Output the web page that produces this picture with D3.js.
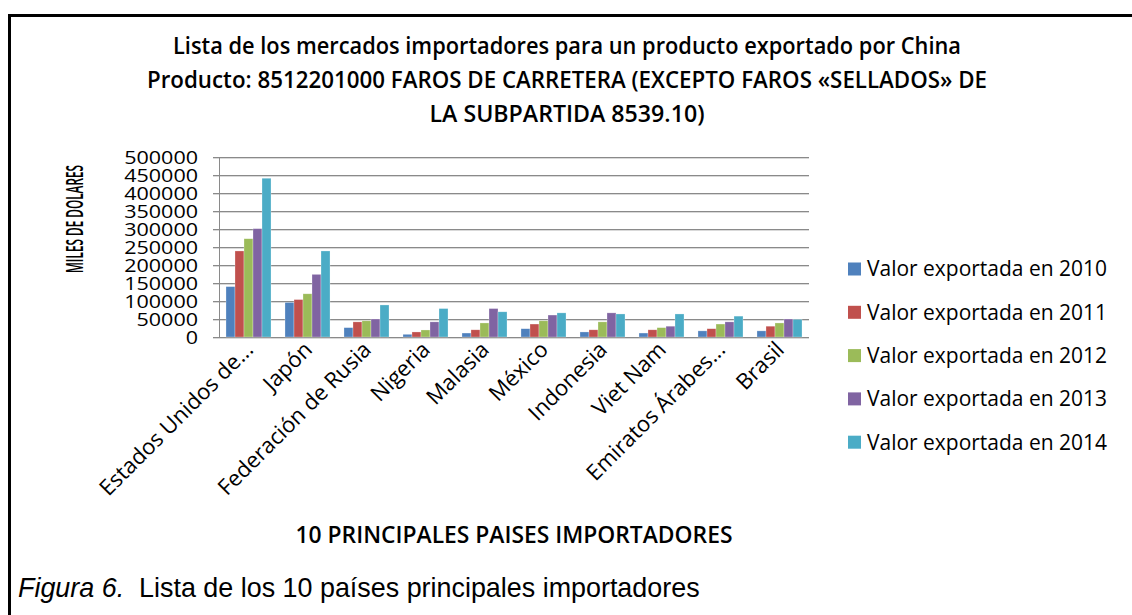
<!DOCTYPE html>
<html>
<head>
<meta charset="utf-8">
<script src="https://cdn.jsdelivr.net/npm/d3@7"></script>
<style>
  body { margin: 0; background: #fff; }
  svg { display: block; }
  .calib { font-family: "Open Sans", "DejaVu Sans", sans-serif; fill: #000; }
</style>
</head>
<body>
<div id="chart"></div>
<script>
var paises = ["Estados Unidos de...", "Japón", "Federación de Rusia", "Nigeria", "Malasia",
  "México", "Indonesia", "Viet Nam", "Emiratos Árabes...", "Brasil"];
var series = ["Valor exportada en 2010", "Valor exportada en 2011", "Valor exportada en 2012",
  "Valor exportada en 2013", "Valor exportada en 2014"];
var colors = ["#4f81bd", "#c0504d", "#9bbb59", "#8064a2", "#4bacc6"];

// miles de dolares, one array per year
var v2010 = [140000, 96000, 26000, 7500, 11000, 23000, 14000, 11000, 17000, 17000];
var v2011 = [239000, 104000, 42000, 14000, 20000, 36000, 20000, 20000, 23000, 30000];
var v2012 = [273000, 120000, 45000, 19500, 39000, 45000, 42000, 26000, 36000, 39000];
var v2013 = [301000, 174000, 50000, 42000, 79000, 61000, 67000, 30000, 42000, 50000];
var v2014 = [441000, 239000, 89000, 79000, 70000, 67000, 64000, 64000, 58000, 49000];
var values = [v2010, v2011, v2012, v2013, v2014];

var yTicks = [0, 50000, 100000, 150000, 200000, 250000, 300000, 350000, 400000, 450000, 500000];

var titleLines = ["Lista de los mercados importadores para un producto exportado por China",
  "Producto: 8512201000 FAROS DE CARRETERA (EXCEPTO FAROS «SELLADOS» DE",
  "LA SUBPARTIDA 8539.10)"];

var W = 1132, H = 615;
var svg = d3.select("#chart").append("svg").attr("width", W).attr("height", H);

// scale a text's font so its length fits the target
function fit(sel, target) {
  var len = sel.node().getComputedTextLength();
  var fs = parseFloat(sel.attr("font-size"));
  sel.attr("font-size", fs * target / len);
}

// frame
svg.append("rect")
  .attr("x", 9.5).attr("y", 15.5).attr("width", 1200).attr("height", 700)
  .attr("fill", "none").attr("stroke", "#000").attr("stroke-width", 3);

// title
var tw = [788, 840, 275];
titleLines.forEach(function(t, i) {
  svg.append("text").attr("class", "calib")
    .attr("x", 567).attr("y", 54 + i * 34)
    .attr("text-anchor", "middle")
    .attr("font-size", 23).attr("font-weight", 600)
    .attr("textLength", tw[i]).attr("lengthAdjust", "spacingAndGlyphs")
    .text(t);
});

var plot = {left: 219, right: 809, top: 157, bottom: 337};

var x = d3.scaleBand().domain(paises).range([plot.left, plot.right])
  .paddingInner(0.237).paddingOuter(0.1185);
var xs = d3.scaleBand().domain(d3.range(series.length)).range([0, x.bandwidth()]);
var y = d3.scaleLinear().domain([0, 500000]).range([plot.bottom, plot.top]);

// gridlines
var grid = svg.append("g");
grid.selectAll("line.sh").data(yTicks).join("line")
  .attr("x1", plot.left - 6).attr("x2", plot.right)
  .attr("y1", function(d) { return y(d) + 1.5; }).attr("y2", function(d) { return y(d) + 1.5; })
  .attr("stroke", "#d9d9d9").attr("stroke-width", 1);
grid.selectAll("line.g").data(yTicks).join("line")
  .attr("x1", plot.left - 6).attr("x2", plot.right)
  .attr("y1", function(d) { return y(d) + 0.5; }).attr("y2", function(d) { return y(d) + 0.5; })
  .attr("stroke", "#8a8a8a").attr("stroke-width", 1);

svg.append("line")
  .attr("x1", plot.left + 0.5).attr("x2", plot.left + 0.5)
  .attr("y1", plot.top).attr("y2", plot.bottom + 1)
  .attr("stroke", "#8a8a8a");

// y axis labels
var yAxis = svg.append("g").attr("transform", "translate(" + (plot.left - 21) + ",0)")
  .call(d3.axisLeft(y).tickValues(yTicks).tickSize(0).tickPadding(0).tickFormat(d3.format("d")));
yAxis.select(".domain").remove();
yAxis.selectAll("text").attr("class", "calib").attr("font-family", null)
  .attr("font-size", 19).attr("dy", "0.36em").attr("fill", "#000")
  .attr("lengthAdjust", "spacingAndGlyphs")
  .attr("textLength", function(d) { return String(d).length * 12.3; });

// bars
svg.append("g").selectAll("g").data(values).join("g")
  .attr("fill", function(d, i) { return colors[i]; })
  .each(function(vals, si) {
    d3.select(this).selectAll("rect").data(vals).join("rect")
      .attr("x", function(d, i) { return x(paises[i]) + xs(si); })
      .attr("width", xs.bandwidth())
      .attr("y", function(d) { return y(d); })
      .attr("height", function(d) { return plot.bottom - y(d); })
      .attr("stroke", "rgba(255,255,255,0.45)").attr("stroke-width", 0.6);
  });

// x labels
var xl = svg.append("g").selectAll("text").data(paises).join("text")
  .attr("class", "calib")
  .attr("text-anchor", "end")
  .attr("font-size", 17)
  .attr("transform", function(d) {
    return "translate(" + (x(d) + x.bandwidth() / 2 + 6) + "," + (plot.bottom + 14) + ") rotate(-45)";
  })
  .text(function(d) { return d; });
var ref = xl.filter(function(d) { return d === "Federación de Rusia"; });
var xfs = 17 * 206 / ref.node().getComputedTextLength();
xl.attr("font-size", xfs);

// y title
svg.append("text").attr("class", "calib")
  .attr("transform", "translate(83,219) rotate(-90)")
  .attr("text-anchor", "middle").attr("font-weight", 600).attr("font-size", 23)
  .attr("textLength", 108).attr("lengthAdjust", "spacingAndGlyphs")
  .text("MILES DE DOLARES");

// x title
svg.append("text").attr("class", "calib")
  .attr("x", 514).attr("y", 543)
  .attr("text-anchor", "middle").attr("font-weight", 600).attr("font-size", 23)
  .attr("textLength", 437).attr("lengthAdjust", "spacingAndGlyphs")
  .text("10 PRINCIPALES PAISES IMPORTADORES");

// legend
var lg = svg.append("g").selectAll("g").data(series).join("g")
  .attr("transform", function(d, i) { return "translate(848," + (269 + i * 43.3) + ")"; });
lg.append("rect").attr("x", 0).attr("y", -6.5).attr("width", 13).attr("height", 13)
  .attr("fill", function(d, i) { return colors[i]; });
var lt = lg.append("text").attr("class", "calib")
  .attr("x", 19).attr("dy", "0.35em").attr("font-size", 19)
  .attr("fill", "#222")
  .text(function(d) { return d; });
var lfs = 19 * 240 / lt.node().getComputedTextLength();
lt.attr("font-size", lfs);

// caption
var cap = svg.append("text")
  .attr("x", 18).attr("y", 597)
  .attr("font-family", "Liberation Sans, Arial, sans-serif").attr("font-size", 21)
  .attr("fill", "#000");
cap.append("tspan").attr("font-style", "italic").text("Figura 6.");
cap.append("tspan").text("\u00a0 Lista de los 10 países principales importadores");
fit(cap, 682);
</script>
</body>
</html>
